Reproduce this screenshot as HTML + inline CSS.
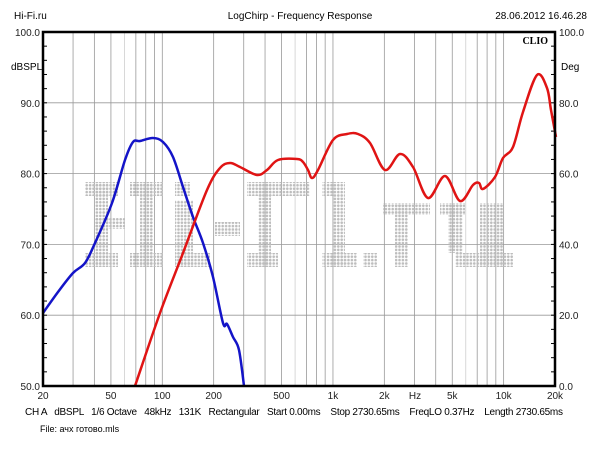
<!DOCTYPE html>
<html><head><meta charset="utf-8"><style>
body{margin:0;background:#fff;width:600px;height:450px;overflow:hidden}
svg{display:block;font-family:"Liberation Sans",sans-serif}
text{white-space:pre}
</style></head><body>
<svg id="s" width="600" height="450" xmlns="http://www.w3.org/2000/svg">
<defs><pattern id="dp" width="3.4" height="3.4" patternUnits="userSpaceOnUse"><circle cx="1.7" cy="1.7" r="1.3" fill="#bdbdbd"/></pattern></defs>
<g id="grid"></g>
<g fill="url(#dp)">
<rect x="85" y="182" width="33" height="14"/><rect x="95" y="182" width="13" height="85"/><rect x="85" y="253" width="33" height="14"/><rect x="95" y="218" width="30" height="11"/>
<rect x="130" y="182" width="33" height="14"/><rect x="140" y="182" width="13" height="85"/><rect x="130" y="253" width="33" height="14"/>
<rect x="175" y="182" width="15" height="14"/><rect x="175" y="200" width="18" height="67"/><rect x="175" y="253" width="35" height="14"/>
<rect x="215" y="222" width="25" height="14"/>
<rect x="247" y="182" width="63" height="14"/><rect x="258" y="182" width="13" height="85"/><rect x="247" y="253" width="31" height="14"/>
<rect x="322" y="182" width="12" height="14"/><rect x="333" y="182" width="12" height="85"/><rect x="322" y="253" width="35" height="14"/>
<rect x="363" y="253" width="14" height="14"/>
<rect x="383" y="203" width="47" height="12"/><rect x="395" y="203" width="13" height="64"/>
<rect x="440" y="203" width="25" height="12"/><rect x="448" y="203" width="15" height="50"/><rect x="455" y="253" width="58" height="14"/>
<rect x="480" y="203" width="23" height="64"/>
</g>
<path id="blue" fill="none" stroke="#1414c8" stroke-width="2.5" stroke-linejoin="round"/>
<path id="red" fill="none" stroke="#e01414" stroke-width="2.5" stroke-linejoin="round"/>
<rect x="43" y="32" width="512" height="354" fill="none" stroke="#000" stroke-width="2.5"/>
<g id="ax" font-size="10" fill="#222"></g>
<text x="14" y="19" font-size="10">Hi-Fi.ru</text>
<text x="300" y="19" font-size="10" text-anchor="middle">LogChirp - Frequency Response</text>
<text x="587" y="19" font-size="10" text-anchor="end">28.06.2012 16.46.28</text>
<text x="548" y="44" font-size="10" font-weight="bold" font-family="Liberation Serif,serif" text-anchor="end">CLIO</text>
<text x="11" y="70" font-size="10">dBSPL</text>
<text x="561" y="70" font-size="10">Deg</text>
<text x="25" y="415" font-size="10" textLength="538" lengthAdjust="spacing">CH A   dBSPL   1/6 Octave   48kHz   131K   Rectangular   Start 0.00ms    Stop 2730.65ms    FreqLO 0.37Hz    Length 2730.65ms</text>
<text x="40" y="432" font-size="9">File: ачх готово.mls</text>
</svg>
<script>
var g=document.getElementById('grid'),ax=document.getElementById('ax'),NS='http://www.w3.org/2000/svg';
function el(p,t,a,txt){var e=document.createElementNS(NS,t);for(var k in a)e.setAttribute(k,a[k]);if(txt)e.textContent=txt;p.appendChild(e);}
function X(f){return 43+170.67*Math.log10(f/20);}
var fs=[30,40,50,60,70,80,90,100,200,300,400,500,600,700,800,900,1000,2000,3000,4000,5000,6000,7000,8000,9000,10000];
fs.forEach(function(f){var x=X(f);el(g,'line',{x1:x,x2:x,y1:32,y2:386,stroke:(f==60||f==600||f==6000)?'#cfcfcf':'#999','stroke-width':0.8});});
[90,80,70,60].forEach(function(v){var y=32+(100-v)*7.08;el(g,'line',{x1:43,x2:555,y1:y,y2:y,stroke:'#999','stroke-width':0.8});});
for(var v=50;v<=100;v+=2){var y=32+(100-v)*7.08;el(g,'line',{x1:43,x2:47,y1:y,y2:y,stroke:'#000'});el(g,'line',{x1:551,x2:555,y1:y,y2:y,stroke:'#000'});}
for(var i=0;i<=5;i++){var y=32+i*70.8;el(ax,'text',{x:40,y:y+4,'text-anchor':'end'},(100-i*10).toFixed(1));el(ax,'text',{x:559,y:y+4},(100-i*20).toFixed(1));}
[[20,'20'],[50,'50'],[100,'100'],[200,'200'],[500,'500'],[1000,'1k'],[2000,'2k'],[5000,'5k'],[10000,'10k'],[20000,'20k']].forEach(function(p){el(ax,'text',{x:X(p[0]),y:399,'text-anchor':'middle'},p[1]);});
el(ax,'text',{x:415,y:399,'text-anchor':'middle'},'Hz');
function cr(p){var d='M'+p[0][0]+','+p[0][1];for(var i=0;i<p.length-1;i++){var a=p[Math.max(i-1,0)],b=p[i],c=p[i+1],e=p[Math.min(i+2,p.length-1)];
d+=' C'+(b[0]+(c[0]-a[0])/6).toFixed(1)+','+(b[1]+(c[1]-a[1])/6).toFixed(1)+' '+(c[0]-(e[0]-b[0])/6).toFixed(1)+','+(c[1]-(e[1]-b[1])/6).toFixed(1)+' '+c[0]+','+c[1];}return d;}
document.getElementById('blue').setAttribute('d',cr([[43,313],[58,292],[73,273],[85,263],[95,243],[112,203],[125,160],[133,142],[140,141],[153,138],[163,142],[173,157],[183,187],[193,217],[203,243],[213,277],[223,323],[227,324],[233,337],[239,350],[244,386]]));
document.getElementById('red').setAttribute('d',cr([[135,386],[160,313],[183,253],[207,190],[220,168],[230,163],[240,167],[257,175],[267,170],[278,160],[297,159],[303,162],[308,170],[312,178],[318,170],[333,140],[347,134],[358,134],[370,143],[385,170],[400,154],[413,167],[428,198],[445,176],[460,201],[473,185],[479,183],[483,189],[495,177],[503,158],[513,147],[523,112],[537,75],[547,88],[551,110],[556,137]]));
</script>
</body></html>
